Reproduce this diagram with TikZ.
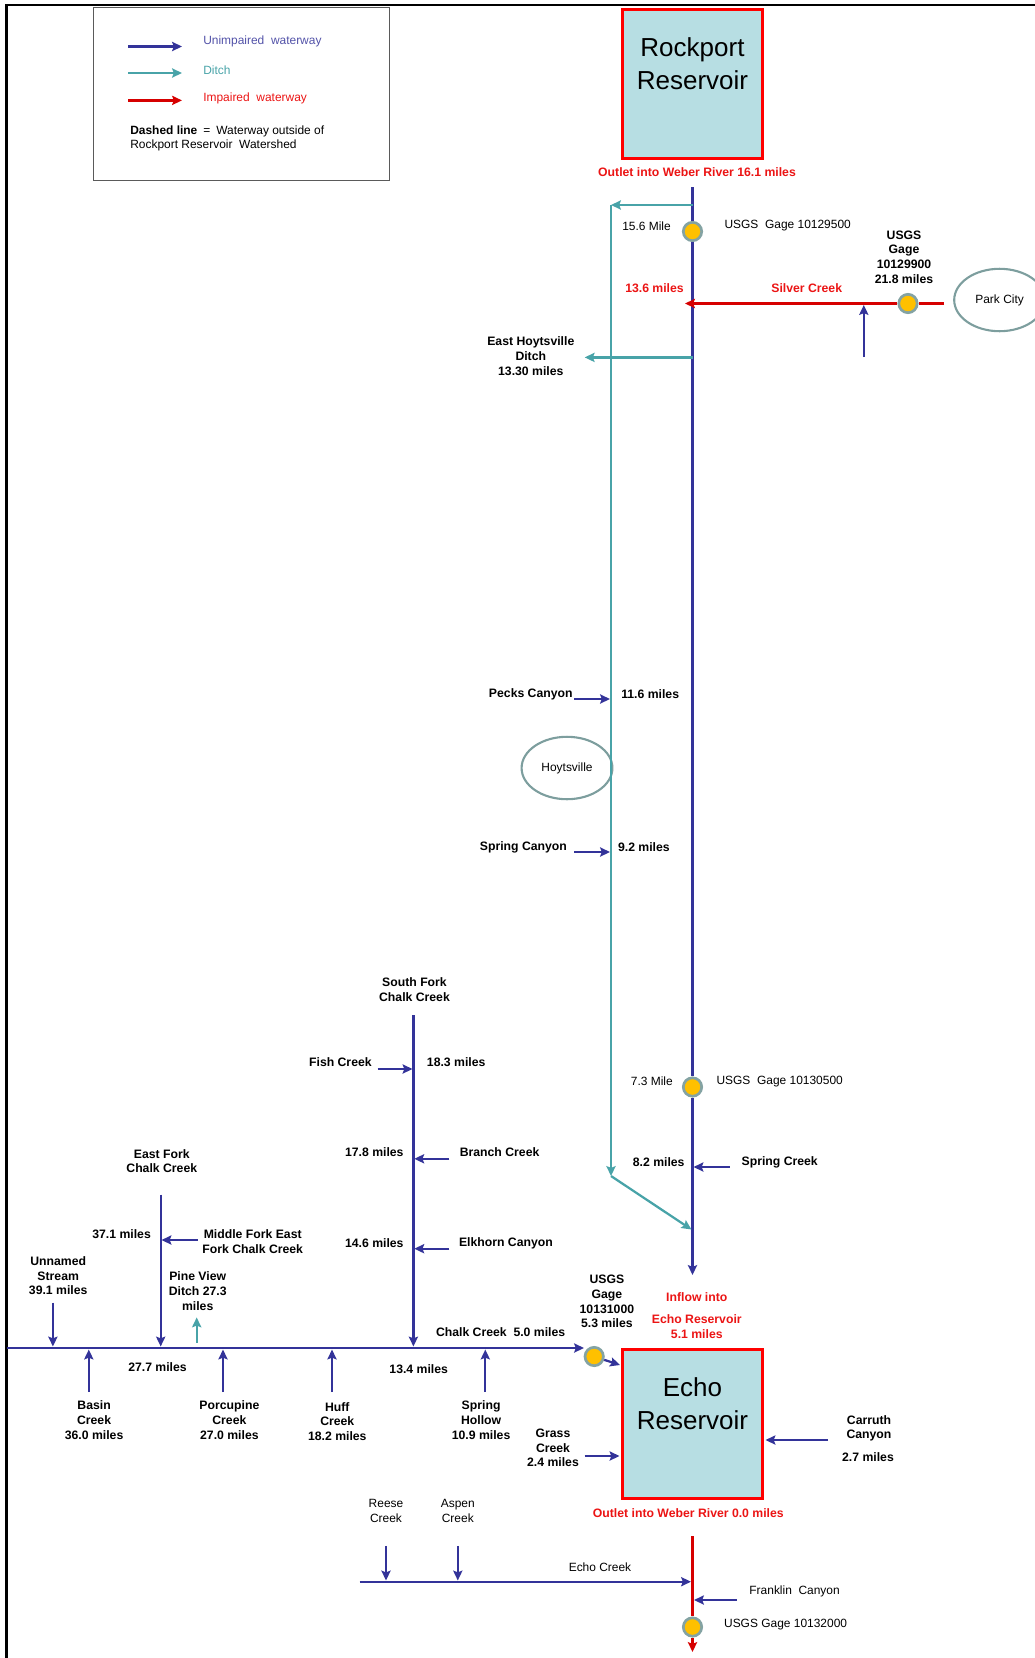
\documentclass[tikz,border=0pt]{standalone}
\usepackage{fontspec}
\setmainfont{Liberation Sans}
\usepackage{tikz}
\usetikzlibrary{arrows.meta, positioning, shapes.geometric}
\definecolor{riverblue}{RGB}{51, 51, 153}
\definecolor{ditchteal}{RGB}{72, 163, 168}
\definecolor{impairred}{RGB}{214, 0, 0}
\definecolor{boxred}{RGB}{255, 0, 0}
\definecolor{labelred}{RGB}{235, 20, 20}
\definecolor{reswater}{RGB}{183, 222, 227}
\definecolor{gagegold}{RGB}{255, 192, 0}
\definecolor{gagerim}{RGB}{132, 163, 163}
\definecolor{townrim}{RGB}{125, 158, 158}
\definecolor{keygray}{RGB}{90, 90, 90}

\begin{document}
\begin{tikzpicture}[
    x=0.025cm, y=-0.025cm,
    lbl/.style={font=\fontsize{8.7}{10.5}\selectfont\bfseries, align=center, inner sep=0pt},
    thinlbl/.style={font=\fontsize{8.5}{10.5}\selectfont, align=center, inner sep=0pt},
    redlbl/.style={lbl, text=labelred},
    keytext/.style={font=\fontsize{8.5}{10.5}\selectfont, anchor=west, align=left, inner sep=0pt},
    resv/.style={draw=boxred, line width=2.3pt, fill=reswater, minimum width=3.5cm, minimum height=3.72cm, inner sep=0pt},
    resvname/.style={font=\fontsize{18.5}{23.4}\selectfont, align=center, inner sep=0pt},
    gage/.style={circle, draw=gagerim, fill=gagegold, line width=1.9pt, minimum size=0.46cm, inner sep=0pt},
    town/.style={ellipse, draw=townrim, line width=1.5pt, minimum width=2.27cm, minimum height=1.56cm, inner sep=0pt, font=\fontsize{8.5}{10}\selectfont},
    wway/.style={-{Stealth[length=7pt, width=6.5pt, inset=1.2pt]}, line width=1.6pt, color=riverblue},
    ditch/.style={wway, color=ditchteal},
    impaired/.style={wway, color=impairred}
]
    \useasboundingbox (0,0) rectangle (1034,1658);
    \draw[line width=1.6pt] (6.5,1662) -- (6.5,5) -- (1038,5);

    % legend
    \node[draw=keygray, line width=0.8pt, minimum width=7.4cm, minimum height=4.33cm, inner sep=0pt] (key) at (241.5,94) {};
    \coordinate (keyblueA) at (128,46.5);  \coordinate (keyblueB) at (182,46.5);
    \coordinate (keytealA) at (128,73);    \coordinate (keytealB) at (182,73);
    \coordinate (keyredA) at (128,100.4);  \coordinate (keyredB) at (182,100.4);
    \draw[wway] (keyblueA) -- (keyblueB);
    \draw[ditch] (keytealA) -- (keytealB);
    \draw[impaired] (keyredA) -- (keyredB);
    \node[keytext, text=riverblue!85] (keyblue) at (203,41.2) {Unimpaired~~waterway};
    \node[keytext, text=ditchteal] (keyteal) at (203,69.8) {Ditch};
    \node[keytext, text=labelred] (keyred) at (203,98.3) {Impaired~~waterway};
    \node[keytext] (keydash) at (130,138.5) {\textbf{Dashed line}\enspace=\enspace Waterway outside of\\Rockport Reservoir~~Watershed};

    % reservoirs, gages, towns
    \node[resv] (rockport) at (692.5,84) {};
    \node[resvname] (rockportname) at (692.5,63.5) {Rockport\\Reservoir};
    \node[redlbl] (rockportout) at (697,172.5) {Outlet into Weber River 16.1 miles};
    \node[resv] (echo) at (692.5,1424) {};
    \node[resvname] (echoname) at (692.5,1404) {Echo\\Reservoir};
    \node[redlbl] (echoout) at (688.3,1513) {Outlet into Weber River 0.0 miles};
    \node[redlbl] (echoin) at (696.8,1315.5) {Inflow into\\[5pt]Echo Reservoir\\5.1 miles};

    \node[gage] (gageA) at (692.5,231.5) {};
    \node[gage] (gageB) at (908,303.5) {};
    \node[gage] (gageC) at (692.5,1087) {};
    \node[gage] (gageD) at (594.2,1356.5) {};
    \node[gage] (gageE) at (692.5,1627) {};
    \node[town] (parkcity) at (999.6,300) {Park City};
    \node[town] (hoytsville) at (567,768) {Hoytsville};

    % Weber River and ditch
    \coordinate (weberin) at (692.5,187);
    \coordinate (weberend) at (692.5,1275);
    \draw[wway] (weberin) -- (gageA) -- (gageC) -- (weberend);
    \coordinate (ditchoff) at (692.5,205);
    \coordinate (ditchcorner) at (611,205);
    \coordinate (ditchfoot) at (611,1176);
    \coordinate (ditchjoin) at (691.5,1229.5);
    \draw[ditch] (ditchoff) -- (ditchcorner);
    \draw[ditch] (ditchcorner) -- (ditchfoot);
    \draw[ditch] (ditchfoot) -- (ditchjoin);
    \coordinate (hoytditchoff) at (692.5,357.4);
    \coordinate (hoytditchend) at (584.7,357.4);
    \draw[ditch] (hoytditchoff) -- (hoytditchend);

    \coordinate (silverfrom) at (944,303.5);
    \coordinate (silverto) at (685,303.5);
    \draw[impaired] (silverfrom) -- (gageB) -- (silverto);
    \coordinate (silvertribA) at (863.8,357);
    \coordinate (silvertribB) at (863.8,305);
    \draw[wway] (silvertribA) -- (silvertribB);

    \coordinate (pecksA) at (574,699);   \coordinate (pecksB) at (610,699);
    \coordinate (springcA) at (574,852); \coordinate (springcB) at (610,852);
    \draw[wway] (pecksA) -- (pecksB);
    \draw[wway] (springcA) -- (springcB);
    \coordinate (springkA) at (729.5,1167); \coordinate (springkB) at (693.5,1167);
    \draw[wway] (springkA) -- (springkB);

    % Chalk Creek
    \coordinate (chalkfrom) at (6.5,1348);
    \coordinate (chalkto) at (584,1348);
    \coordinate (chalkinflow) at (620,1365);
    \draw[wway] (chalkfrom) -- (chalkto);
    \draw[wway] (gageD) -- (chalkinflow);
    \coordinate (sforktop) at (413.4,1015);  \coordinate (sforkend) at (413.4,1346.5);
    \draw[wway] (sforktop) -- (sforkend);
    \coordinate (fishA) at (377.5,1069);     \coordinate (fishB) at (412.5,1069);
    \coordinate (branchA) at (449.4,1158.8); \coordinate (branchB) at (414.3,1158.8);
    \coordinate (elkA) at (449.4,1248.7);    \coordinate (elkB) at (414.3,1248.7);
    \draw[wway] (fishA) -- (fishB);
    \draw[wway] (branchA) -- (branchB);
    \draw[wway] (elkA) -- (elkB);
    \coordinate (eforktop) at (160.7,1194.7); \coordinate (eforkend) at (160.7,1346.5);
    \draw[wway] (eforktop) -- (eforkend);
    \coordinate (mforkA) at (197.7,1240);  \coordinate (mforkB) at (161.5,1240);
    \draw[wway] (mforkA) -- (mforkB);
    \coordinate (pineA) at (196.7,1342.7); \coordinate (pineB) at (196.7,1317.4);
    \draw[ditch] (pineA) -- (pineB);
    \coordinate (unnamedA) at (52.9,1302.6); \coordinate (unnamedB) at (52.9,1346.5);
    \draw[wway] (unnamedA) -- (unnamedB);
    \coordinate (basinA) at (88.8,1392);  \coordinate (basinB) at (88.8,1349.5);
    \coordinate (porcA) at (223,1392);    \coordinate (porcB) at (223,1349.5);
    \coordinate (huffA) at (332,1392);    \coordinate (huffB) at (332,1349.5);
    \coordinate (hollowA) at (485.3,1392); \coordinate (hollowB) at (485.3,1349.5);
    \draw[wway] (basinA) -- (basinB);
    \draw[wway] (porcA) -- (porcB);
    \draw[wway] (huffA) -- (huffB);
    \draw[wway] (hollowA) -- (hollowB);
    \coordinate (grassA) at (584.7,1456); \coordinate (grassB) at (619.5,1456);
    \coordinate (carruthA) at (828,1440); \coordinate (carruthB) at (765.5,1440);
    \draw[wway] (grassA) -- (grassB);
    \draw[wway] (carruthA) -- (carruthB);

    % below Echo
    \coordinate (weberout) at (692.5,1536);
    \coordinate (weberoutend) at (692.5,1652);
    \draw[impaired] (weberout) -- (gageE) -- (weberoutend);
    \coordinate (echocrA) at (359.5,1581.7); \coordinate (echocrB) at (691,1581.7);
    \draw[wway] (echocrA) -- (echocrB);
    \coordinate (reeseA) at (386,1545.8);  \coordinate (reeseB) at (386,1580.5);
    \coordinate (aspenA) at (457.8,1545.8); \coordinate (aspenB) at (457.8,1580.5);
    \draw[wway] (reeseA) -- (reeseB);
    \draw[wway] (aspenA) -- (aspenB);
    \coordinate (franklinA) at (737,1600); \coordinate (franklinB) at (694,1600);
    \draw[wway] (franklinA) -- (franklinB);

    % labels
    \node[thinlbl] (gageAmile) at (646.5,226) {15.6 Mile};
    \node[thinlbl] (gageAname) at (787.7,226) {USGS~~Gage 10129500};
    \node[lbl] (gageBname) at (904,257) {USGS\\Gage\\10129900\\21.8 miles};
    \node[redlbl] (silvermile) at (654.5,288.6) {13.6 miles};
    \node[redlbl] (silvername) at (806.7,288.6) {Silver Creek};
    \node[lbl] (hoytditchlbl) at (530.8,356) {East Hoytsville\\Ditch\\13.30 miles};
    \node[lbl] (peckslbl) at (530.8,694.6) {Pecks Canyon};
    \node[lbl] (pecksmile) at (650.2,694.6) {11.6 miles};
    \node[lbl] (springclbl) at (523.4,847) {Spring Canyon};
    \node[lbl] (springcmile) at (643.9,847) {9.2 miles};
    \node[lbl] (sforklbl) at (414.5,989.5) {South Fork\\Chalk Creek};
    \node[lbl] (fishlbl) at (340.4,1062.6) {Fish Creek};
    \node[lbl] (fishmile) at (456.2,1062.6) {18.3 miles};
    \node[lbl] (branchmile) at (374.3,1152.5) {17.8 miles};
    \node[lbl] (branchlbl) at (499.6,1152.5) {Branch Creek};
    \node[lbl] (elkmile) at (374.3,1243.4) {14.6 miles};
    \node[lbl] (elklbl) at (505.9,1243.4) {Elkhorn Canyon};
    \node[thinlbl] (gageCmile) at (651.8,1081.6) {7.3 Mile};
    \node[thinlbl] (gageCname) at (779.7,1081.6) {USGS~~Gage 10130500};
    \node[lbl] (springkmile) at (658.7,1162) {8.2 miles};
    \node[lbl] (springklbl) at (779.7,1162) {Spring Creek};
    \node[lbl] (eforklbl) at (161.8,1161) {East Fork\\Chalk Creek};
    \node[lbl] (mforkmile) at (121.6,1233.9) {37.1 miles};
    \node[lbl] (mforklbl) at (252.7,1241.3) {Middle Fork East\\Fork Chalk Creek};
    \node[lbl] (unnamedlbl) at (58.2,1275.8) {Unnamed\\Stream\\39.1 miles};
    \node[lbl] (pinelbl) at (197.7,1291) {Pine View\\Ditch 27.3\\miles};
    \node[lbl] (chalklbl) at (500.6,1332.2) {Chalk Creek~~5.0 miles};
    \node[lbl] (gageDname) at (606.9,1301.5) {USGS\\Gage\\10131000\\5.3 miles};
    \node[lbl] (eforkmile) at (157.5,1367) {27.7 miles};
    \node[lbl] (sforkmile) at (418.7,1369.2) {13.4 miles};
    \node[lbl] (basinlbl) at (94.1,1420) {Basin\\Creek\\36.0 miles};
    \node[lbl] (porclbl) at (229.4,1420) {Porcupine\\Creek\\27.0 miles};
    \node[lbl] (hufflbl) at (337.3,1421.5) {Huff\\Creek\\18.2 miles};
    \node[lbl] (hollowlbl) at (481.1,1420) {Spring\\Hollow\\10.9 miles};
    \node[lbl] (grasslbl) at (553,1448) {Grass\\Creek\\2.4 miles};
    \node[lbl] (carruthlbl) at (869,1428.4) {Carruth\\Canyon};
    \node[lbl] (carruthmile) at (868,1457) {2.7 miles};
    \node[thinlbl] (reeselbl) at (386,1511) {Reese\\Creek};
    \node[thinlbl] (aspenlbl) at (457.8,1511) {Aspen\\Creek};
    \node[thinlbl] (echocrlbl) at (600,1567) {Echo Creek};
    \node[thinlbl] (franklinlbl) at (794.6,1591.2) {Franklin~~Canyon};
    \node[thinlbl] (gageEname) at (785.6,1625) {USGS Gage 10132000};
\end{tikzpicture}
\end{document}
